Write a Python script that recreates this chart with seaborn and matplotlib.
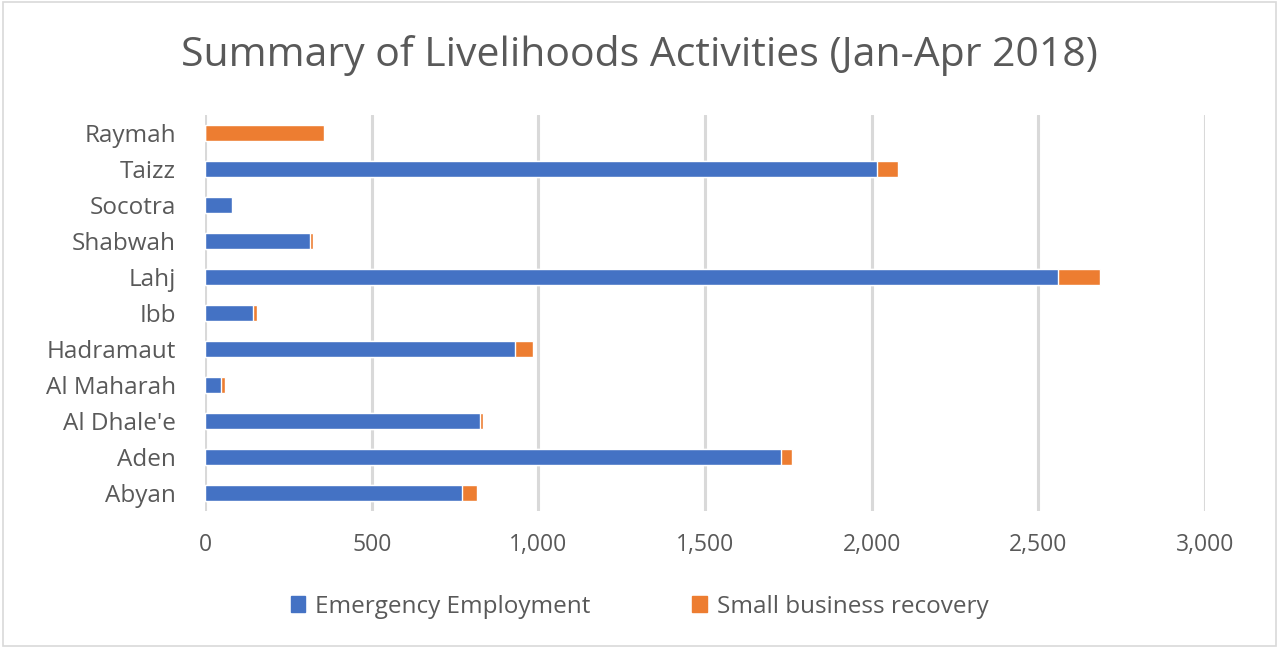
import matplotlib
matplotlib.use("Agg")
import matplotlib.pyplot as plt
import seaborn as sns
import pandas as pd
from matplotlib.patches import Patch, Rectangle

regions = ["Raymah", "Taizz", "Socotra", "Shabwah", "Lahj", "Ibb", "Hadramaut",
           "Al Maharah", "Al Dhale'e", "Aden", "Abyan"]
emergency_employment = [0, 2016, 80, 314, 2559, 143, 930, 48, 824, 1727, 770]
small_business = [356, 64, 0, 11, 127, 12, 54, 11, 11, 33, 45]
x_ticks = [0, 500, 1000, 1500, 2000, 2500, 3000]

df = pd.DataFrame({"region": regions,
                   "emergency": emergency_employment,
                   "small": small_business})
df["total"] = df["emergency"] + df["small"]

sns.set_theme(style="white")
plt.rcParams["font.family"] = ["Open Sans", "DejaVu Sans"]

blue = "#4472C4"
orange = "#ED7D31"
grey = "#595959"

fig = plt.figure(figsize=(12.79, 6.48), dpi=100)
ax = fig.add_axes([0.1603, 0.2114, 0.7819, 0.6111])

sns.barplot(data=df, y="region", x="total", color=orange, orient="h",
            width=0.42, ax=ax, saturation=1, order=regions, zorder=3)
sns.barplot(data=df, y="region", x="emergency", color=blue, orient="h",
            width=0.42, ax=ax, saturation=1, order=regions, zorder=4)

ax.set_xlim(0, 3000)
ax.set_ylim(len(regions) - 0.5, -0.5)
ax.set_xticks(x_ticks)
ax.set_xticklabels([f"{v:,}" for v in x_ticks], fontsize=16.5, color=grey)
ax.tick_params(axis="x", pad=16, length=0)
ax.tick_params(axis="y", pad=21, length=0)
for lab in ax.get_yticklabels():
    lab.set_fontsize(17.5)
    lab.set_color(grey)
ax.set_xlabel("")
ax.set_ylabel("")
for s in ax.spines.values():
    s.set_visible(False)
ax.grid(axis="x", color="#D9D9D9", linewidth=2.2, zorder=0)
ax.set_axisbelow(True)

fig.text(0.5, 0.915, "Summary of Livelihoods Activities (Jan-Apr 2018)",
         ha="center", va="center", fontsize=29.5, color=grey)

handles = [Patch(color=blue, label="Emergency Employment"),
           Patch(color=orange, label="Small business recovery")]
fig.legend(handles=handles, loc="center", bbox_to_anchor=(0.5, 0.064),
           ncol=2, frameon=False, fontsize=17.5, handlelength=0.6,
           handleheight=0.6, handletextpad=0.4, columnspacing=4.2,
           labelcolor=grey)

fig.patches.append(Rectangle((0.002, 0.003), 0.996, 0.994, transform=fig.transFigure,
                             fill=False, edgecolor="#D9D9D9", linewidth=1.2))

fig.savefig("out.png", dpi=100)
